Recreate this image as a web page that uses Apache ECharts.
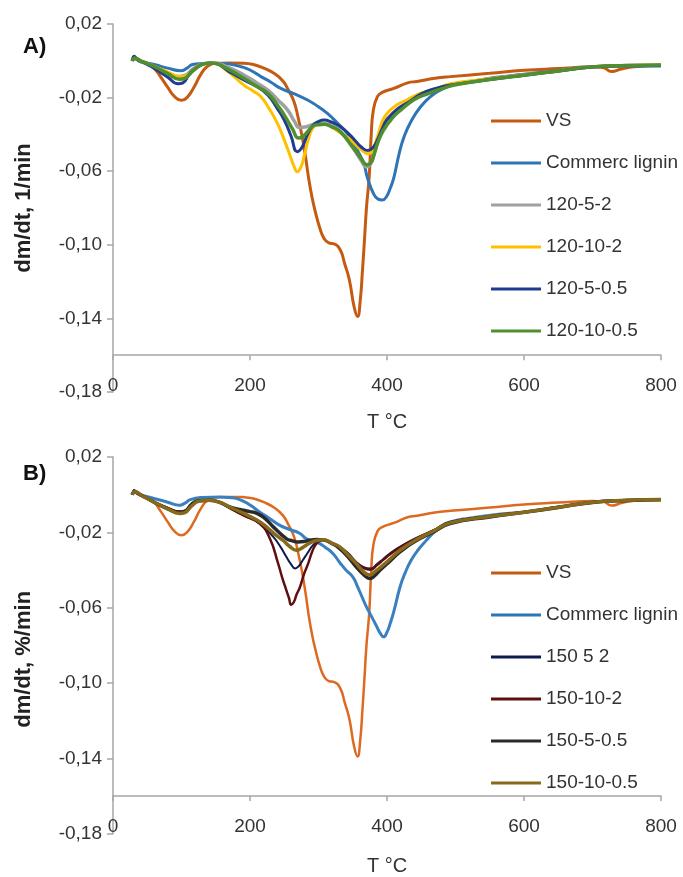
<!DOCTYPE html>
<html>
<head>
<meta charset="utf-8">
<title>DTG curves</title>
<script src="https://cdn.jsdelivr.net/npm/echarts@6.0.0/dist/echarts.min.js"></script>
<style>
  html, body { margin: 0; padding: 0; background: #fff; }
  #chart { width: 683px; height: 877px; }
</style>
</head>
<body>
<div id="chart"></div>
<script>
// axis settings
var X_MIN = 0, X_MAX = 800, X_STEP = 200;
var Y_MIN = -0.18, Y_MAX = 0.02, Y_STEP = 0.04, Y_CROSS = -0.16;

// [T (°C), dm/dt]
var VS = [[28,0.000],[32,0.0015],[38,0.000],[50,-0.0012],[60,-0.004],[70,-0.009],[80,-0.0145],[90,-0.0195],[100,-0.0215],[108,-0.020],[118,-0.0145],[128,-0.0075],[138,-0.003],[150,-0.0014],[170,-0.0012],[190,-0.0013],[205,-0.002],[220,-0.004],[235,-0.0068],[248,-0.011],[256,-0.0159],[264,-0.022],[270,-0.0304],[276,-0.041],[281,-0.052],[286,-0.0648],[291,-0.075],[296,-0.083],[302,-0.091],[308,-0.0965],[315,-0.099],[323,-0.0995],[332,-0.103],[338,-0.110],[345,-0.119],[352,-0.1337],[357,-0.139],[361,-0.130],[364,-0.115],[367,-0.098],[370,-0.080],[374,-0.063],[377,-0.040],[380,-0.027],[386,-0.0195],[393,-0.0172],[410,-0.015],[430,-0.012],[444,-0.0112],[470,-0.0095],[493,-0.0086],[550,-0.0068],[600,-0.0052],[650,-0.0042],[700,-0.0033],[715,-0.0036],[728,-0.0058],[742,-0.0045],[760,-0.0032],[800,-0.0024]];

var LIGNIN_A = [[28,0.000],[32,0.001],[40,-0.0005],[60,-0.002],[80,-0.004],[99,-0.0054],[108,-0.004],[116,-0.002],[130,-0.0015],[152,-0.0013],[170,-0.0018],[187,-0.0032],[200,-0.005],[216,-0.0086],[230,-0.0115],[245,-0.015],[265,-0.018],[284,-0.0213],[300,-0.025],[313,-0.0286],[328,-0.034],[342,-0.0394],[355,-0.0475],[366,-0.0557],[371,-0.063],[380,-0.072],[387,-0.0752],[393,-0.0757],[399,-0.074],[405,-0.069],[410,-0.0635],[418,-0.050],[425,-0.0412],[435,-0.033],[449,-0.025],[465,-0.019],[480,-0.0155],[493,-0.0135],[520,-0.0115],[560,-0.009],[600,-0.0073],[650,-0.0052],[700,-0.0033],[750,-0.0028],[800,-0.0028]];

var S120_5_2 = [[28,0.000],[32,0.0015],[40,0.000],[60,-0.003],[80,-0.0065],[95,-0.0085],[105,-0.008],[118,-0.004],[135,-0.0015],[147,-0.0012],[165,-0.003],[191,-0.0077],[210,-0.012],[226,-0.0159],[240,-0.021],[255,-0.0268],[265,-0.033],[272,-0.0362],[280,-0.036],[289,-0.035],[303,-0.034],[318,-0.035],[332,-0.0385],[348,-0.046],[362,-0.054],[370,-0.0576],[376,-0.056],[381,-0.051],[388,-0.041],[395,-0.034],[408,-0.029],[420,-0.025],[440,-0.020],[460,-0.0165],[480,-0.0145],[500,-0.0125],[550,-0.010],[600,-0.0077],[650,-0.0055],[700,-0.0033],[750,-0.0026],[800,-0.0023]];

var S120_10_2 = [[28,0.000],[32,0.0015],[40,0.000],[60,-0.003],[80,-0.006],[98,-0.0086],[108,-0.008],[120,-0.004],[135,-0.0015],[147,-0.0012],[165,-0.005],[191,-0.0132],[205,-0.0165],[216,-0.0195],[228,-0.026],[240,-0.034],[250,-0.043],[259,-0.0521],[265,-0.058],[269,-0.0603],[274,-0.058],[279,-0.052],[285,-0.043],[291,-0.037],[298,-0.0345],[305,-0.0343],[314,-0.035],[322,-0.0367],[335,-0.040],[347,-0.043],[358,-0.047],[366,-0.0494],[372,-0.0505],[378,-0.049],[386,-0.0413],[393,-0.033],[400,-0.0286],[414,-0.024],[429,-0.0213],[450,-0.0175],[468,-0.0159],[493,-0.0125],[550,-0.0098],[600,-0.0077],[650,-0.0055],[700,-0.0033],[750,-0.0026],[800,-0.0023]];

var S120_5_05 = [[28,0.000],[31,0.0025],[35,0.001],[45,-0.001],[60,-0.004],[80,-0.009],[95,-0.0125],[102,-0.012],[112,-0.007],[125,-0.003],[140,-0.0012],[150,-0.0015],[170,-0.006],[191,-0.0104],[210,-0.014],[226,-0.0186],[240,-0.026],[250,-0.0322],[260,-0.041],[269,-0.0494],[276,-0.047],[284,-0.040],[292,-0.035],[300,-0.033],[308,-0.0322],[320,-0.0335],[332,-0.0358],[345,-0.040],[355,-0.044],[362,-0.0467],[372,-0.0488],[380,-0.047],[386,-0.043],[393,-0.037],[400,-0.032],[414,-0.0265],[429,-0.0231],[450,-0.018],[470,-0.0152],[493,-0.0132],[550,-0.0102],[600,-0.0078],[650,-0.0055],[700,-0.0034],[750,-0.0027],[800,-0.0025]];

var S120_10_05 = [[28,0.000],[32,0.0015],[40,0.000],[60,-0.003],[80,-0.007],[97,-0.010],[105,-0.0095],[118,-0.005],[135,-0.0015],[147,-0.0013],[165,-0.004],[191,-0.0095],[210,-0.014],[226,-0.0177],[240,-0.024],[250,-0.0295],[262,-0.037],[271,-0.042],[278,-0.041],[284,-0.0385],[292,-0.0355],[300,-0.0347],[308,-0.0345],[320,-0.036],[332,-0.0385],[348,-0.046],[362,-0.053],[371,-0.0565],[377,-0.055],[381,-0.051],[388,-0.043],[395,-0.0376],[408,-0.031],[420,-0.0268],[440,-0.021],[460,-0.0178],[480,-0.0152],[500,-0.013],[550,-0.0102],[600,-0.0078],[650,-0.0055],[700,-0.0033],[750,-0.0026],[800,-0.0023]];

var LIGNIN_B = [[28,0.000],[32,0.0015],[40,0.000],[60,-0.002],[80,-0.004],[97,-0.0056],[105,-0.0045],[113,-0.0026],[130,-0.0015],[156,-0.0012],[170,-0.0015],[185,-0.0026],[200,-0.0055],[214,-0.0092],[228,-0.0125],[243,-0.0162],[258,-0.0185],[273,-0.0206],[282,-0.0233],[299,-0.0255],[310,-0.028],[321,-0.0312],[331,-0.036],[340,-0.040],[350,-0.0436],[356,-0.048],[362,-0.053],[370,-0.0596],[375,-0.063],[385,-0.070],[390,-0.0735],[395,-0.0755],[400,-0.073],[405,-0.068],[410,-0.062],[419,-0.049],[426,-0.0419],[435,-0.035],[445,-0.0295],[458,-0.024],[467,-0.0205],[480,-0.0165],[492,-0.0145],[520,-0.0125],[560,-0.0105],[600,-0.0092],[650,-0.0065],[700,-0.0039],[750,-0.003],[800,-0.0026]];

var S150_5_2 = [[28,0.000],[31,0.0025],[35,0.0005],[45,-0.0012],[60,-0.004],[80,-0.007],[97,-0.009],[105,-0.0085],[115,-0.005],[125,-0.0032],[140,-0.003],[155,-0.004],[170,-0.007],[190,-0.0109],[214,-0.0153],[234,-0.0224],[245,-0.028],[253,-0.033],[260,-0.037],[266,-0.0392],[271,-0.038],[277,-0.0348],[284,-0.031],[292,-0.0268],[300,-0.0248],[307,-0.0242],[318,-0.0255],[331,-0.0277],[343,-0.031],[355,-0.0357],[366,-0.0385],[376,-0.0392],[385,-0.037],[395,-0.034],[405,-0.031],[419,-0.0277],[440,-0.0235],[468,-0.0189],[492,-0.0145],[550,-0.0115],[600,-0.0092],[650,-0.0066],[700,-0.004],[750,-0.003],[800,-0.0026]];

var S150_10_2 = [[28,0.000],[32,0.0015],[40,0.000],[60,-0.004],[80,-0.007],[97,-0.009],[105,-0.0085],[115,-0.005],[125,-0.0032],[140,-0.003],[155,-0.004],[170,-0.007],[190,-0.0109],[214,-0.0153],[229,-0.0233],[241,-0.0365],[247,-0.044],[253,-0.0507],[257,-0.055],[260,-0.0585],[264,-0.057],[268,-0.053],[273,-0.049],[279,-0.042],[285,-0.0365],[291,-0.030],[297,-0.0259],[303,-0.0243],[307,-0.024],[318,-0.0255],[331,-0.028],[343,-0.0315],[355,-0.036],[366,-0.039],[376,-0.0398],[385,-0.0375],[395,-0.0345],[405,-0.0315],[419,-0.028],[440,-0.0237],[468,-0.019],[492,-0.0147],[550,-0.0115],[600,-0.0092],[650,-0.0066],[700,-0.004],[750,-0.003],[800,-0.0026]];

var S150_5_05 = [[28,0.000],[32,0.0015],[40,0.000],[60,-0.004],[80,-0.0075],[97,-0.0095],[105,-0.009],[115,-0.005],[125,-0.0032],[140,-0.003],[155,-0.004],[170,-0.0065],[190,-0.0083],[200,-0.009],[209,-0.0098],[220,-0.012],[234,-0.0171],[253,-0.0233],[262,-0.0245],[270,-0.0251],[280,-0.0248],[287,-0.0242],[297,-0.0238],[307,-0.024],[320,-0.026],[331,-0.0286],[343,-0.033],[355,-0.0383],[366,-0.0425],[375,-0.0445],[382,-0.043],[390,-0.040],[405,-0.035],[419,-0.0304],[440,-0.025],[468,-0.0198],[492,-0.0154],[550,-0.0118],[600,-0.0094],[650,-0.0068],[700,-0.0041],[750,-0.0031],[800,-0.0027]];

var S150_10_05 = [[28,0.000],[32,0.0015],[40,0.000],[60,-0.004],[80,-0.0075],[97,-0.010],[105,-0.0095],[115,-0.006],[125,-0.0035],[140,-0.003],[155,-0.004],[170,-0.0065],[190,-0.0098],[210,-0.0135],[224,-0.0171],[236,-0.021],[248,-0.0242],[258,-0.0275],[268,-0.0295],[275,-0.0285],[282,-0.0268],[290,-0.0252],[297,-0.0243],[307,-0.024],[320,-0.0258],[331,-0.0277],[343,-0.032],[355,-0.0365],[366,-0.041],[375,-0.0427],[382,-0.041],[390,-0.0387],[405,-0.034],[419,-0.0295],[440,-0.0245],[468,-0.0193],[492,-0.015],[550,-0.0116],[600,-0.0093],[650,-0.0067],[700,-0.004],[750,-0.003],[800,-0.0026]];

var NAMES_A = ['VS', 'Commerc lignin', '120-5-2', '120-10-2', '120-5-0.5', '120-10-0.5'];
var DATA_A = [VS, LIGNIN_A, S120_5_2, S120_10_2, S120_5_05, S120_10_05];
var COLORS_A = ['#C55A11', '#2E75B6', '#A0A0A0', '#FFC000', '#1F3C8F', '#4F8F2F'];
var WIDTHS_A = [3, 3, 3.5, 3, 3, 3.5];

var NAMES_B = ['VS', 'Commerc lignin', '150 5 2', '150-10-2', '150-5-0.5', '150-10-0.5'];
var DATA_B = [VS, LIGNIN_B, S150_5_2, S150_10_2, S150_5_05, S150_10_05];
var COLORS_B = ['#DD6A1E', '#3A80C0', '#0D1B4C', '#5E1010', '#2A2A2A', '#86691A'];
var WIDTHS_B = [2.5, 3, 2, 2.5, 3.5, 3.5];

var chart = echarts.init(document.getElementById('chart'));

var panels = [
  {top: 24, height: 368, yName: 'dm/dt, 1/min', yPad: [0, 0, 0, 0], nameGapX: 57, legendTop: 106, label: 'A)', labelTop: 31},
  {top: 457, height: 377, yName: 'dm/dt, %/min', yPad: [0, 28, 0, 0], nameGapX: 60, legendTop: 558, label: 'B)', labelTop: 458}
];

function fmt(v) { return v.toFixed(2).replace('.', ','); }

var axisColor = '#A6A6A6';
var grids = [], xAxes = [], yAxes = [], legends = [], titles = [], series = [];

panels.forEach(function (p, i) {
  var names = i === 0 ? NAMES_A : NAMES_B;
  var data = i === 0 ? DATA_A : DATA_B;
  var colors = i === 0 ? COLORS_A : COLORS_B;
  var widths = i === 0 ? WIDTHS_A : WIDTHS_B;
  // T axis crosses the value axis at -0.16, not at the bottom
  var crossOffset = -(Y_CROSS - Y_MIN) / (Y_MAX - Y_MIN) * p.height;

  grids.push({left: 113, top: p.top, width: 548, height: p.height});
  xAxes.push({
    type: 'value', gridIndex: i, min: X_MIN, max: X_MAX, interval: X_STEP,
    offset: crossOffset,
    axisLine: {show: true, onZero: false, lineStyle: {color: axisColor, width: 1.5}},
    axisTick: {show: true, length: 5, lineStyle: {color: axisColor, width: 1.5}},
    splitLine: {show: false},
    axisLabel: {fontSize: 19, color: '#333', margin: 21, fontFamily: 'Liberation Sans'},
    name: 'T °C', nameLocation: 'middle', nameGap: p.nameGapX,
    nameTextStyle: {fontSize: 20, color: '#333', fontFamily: 'Liberation Sans'}
  });
  yAxes.push({
    type: 'value', gridIndex: i, min: Y_MIN, max: Y_MAX, interval: Y_STEP,
    axisLine: {show: true, onZero: false, lineStyle: {color: axisColor, width: 1.5}},
    axisTick: {show: true, length: 6, lineStyle: {color: axisColor, width: 1.5}},
    splitLine: {show: false},
    axisLabel: {fontSize: 19, color: '#333', margin: 11, formatter: fmt, fontFamily: 'Liberation Sans'},
    name: p.yName, nameLocation: 'middle', nameGap: 78,
    nameTextStyle: {fontSize: 22, color: '#222', fontWeight: 'bold', fontFamily: 'Liberation Sans', padding: p.yPad}
  });
  legends.push({
    data: names, orient: 'vertical', left: 486, top: p.legendTop,
    icon: 'rect', itemWidth: 50, itemHeight: 3, itemGap: 22,
    textStyle: {fontSize: 19, color: '#333', lineHeight: 20, fontFamily: 'Liberation Sans'}
  });
  titles.push({text: p.label, left: 18, top: p.labelTop,
    textStyle: {fontSize: 22, fontWeight: 'bold', color: '#111', fontFamily: 'Liberation Sans'}});

  names.forEach(function (n, k) {
    series.push({
      name: n, type: 'line', xAxisIndex: i, yAxisIndex: i,
      data: data[k], showSymbol: false, symbol: 'none',
      smooth: 0.5,
      lineStyle: {color: colors[k], width: widths[k]},
      itemStyle: {color: colors[k]}
    });
  });
});

chart.setOption({
  animation: false,
  backgroundColor: '#fff',
  title: titles,
  grid: grids,
  xAxis: xAxes,
  yAxis: yAxes,
  legend: legends,
  series: series
});
</script>
</body>
</html>
